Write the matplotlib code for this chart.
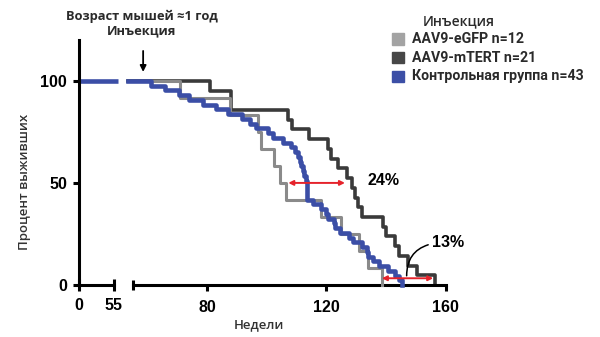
import numpy as np
import matplotlib
matplotlib.use("Agg")
import matplotlib.pyplot as plt
from matplotlib.patches import Rectangle

# недели гибели животных по группам (без цензурирования)
egfp_weeks = [71, 87.5, 97, 98, 102.5, 104.5, 106.5, 118, 125, 131, 134, 138.5]
mtert_weeks = [81, 88, 88, 107, 108.5, 114, 120.5, 121.5, 124, 127, 128.5,
               129.5, 130.5, 132, 139, 140, 143, 144.5, 147.5, 150.5, 156.5]
control_weeks = [61, 66, 70.5, 74, 78.5, 83, 87, 91.5, 94.5, 96.5, 100.5, 102,
                 105.5, 108, 109.5, 110.5, 111, 111.5, 112, 112.5, 113, 113.5,
                 113.5, 113.5, 113.5, 115.5, 118, 120, 120.5, 122.5, 123, 124.5,
                 127.5, 129, 132, 133.5, 134, 135.5, 137.5, 140.5, 143, 144.5, 145.5]

labels = ["AAV9-eGFP n=12", "AAV9-mTERT n=21", "Контрольная группа n=43"]
legend_colors = ["#a3a3a3", "#474747", "#3c4fa6"]
line_colors = ["#8a8a8a", "#3a3a3a", "#3b4ea6"]

median_gap = (107.2, 126.2)   # стрелка 24%
end_gap = (138.6, 155.8)      # стрелка 13%
injection_week = 58.5


def km(weeks, start=53.5):
    t = np.sort(np.asarray(weeks, dtype=float))
    n = len(t)
    s = 100.0 * (1 - np.arange(1, n + 1) / n)
    return np.r_[start, t], np.r_[100.0, s]


W, H = 600, 337
fig = plt.figure(figsize=(W / 100, H / 100), dpi=100)
y0 = 1 - 285 / H
hgt = (285 - 40) / H
axL = fig.add_axes([79 / W, y0, 34.7 / W, hgt])
axR = fig.add_axes([132.7 / W, y0, 313 / W, hgt])

tickfont = dict(family="Liberation Sans", weight="bold", size=11.5)
txtfont = ["Open Sans", "DejaVu Sans"]
legfont = ["Roboto", "DejaVu Sans"]

for ax in (axL, axR):
    ax.set_ylim(0, 120)
    for side in ("top", "right"):
        ax.spines[side].set_visible(False)
    for side in ("left", "bottom"):
        ax.spines[side].set_linewidth(2.2)
    ax.tick_params(width=2.2, length=4.5, pad=4)
    ax.patch.set_alpha(0)

axL.set_xlim(0, 55)
axL.set_xticks([0, 55])
axL.set_yticks([0, 50, 100])
axL.tick_params(axis="x", direction="inout", length=8, pad=5)
for lab in axL.get_xticklabels() + axL.get_yticklabels():
    lab.set(**tickfont)

axR.set_xlim(55, 160)
axR.set_xticks([80, 120, 160])
axR.tick_params(axis="x", pad=6)
axR.spines["left"].set_visible(False)
axR.set_yticks([])
for lab in axR.get_xticklabels():
    lab.set(**tickfont)
# метка разрыва оси
axR.plot([0, 0], [-0.02, 0.02], transform=axR.transAxes, color="black",
         lw=2.2, clip_on=False, solid_capstyle="butt")

# до инъекции
axL.plot([0, 62], [100, 100], color=line_colors[2], lw=3.3,
         clip_on=False, solid_capstyle="butt")

for weeks, c, lw, z in [(mtert_weeks, line_colors[1], 2.6, 2),
                        (egfp_weeks, line_colors[0], 2.2, 3),
                        (control_weeks, line_colors[2], 3.3, 4)]:
    x, y = km(weeks)
    axR.step(x, y, where="post", color=c, lw=lw, zorder=z, clip_on=False)

axR.annotate("", xy=(injection_week, 103), xytext=(injection_week, 116),
             arrowprops=dict(arrowstyle="-|>", color="black", lw=1.3,
                             mutation_scale=9), annotation_clip=False)

red = "#e5232b"
axR.annotate("", xy=(median_gap[0], 50), xytext=(median_gap[1], 50),
             arrowprops=dict(arrowstyle="<|-|>", color=red, lw=1.4,
                             mutation_scale=7, shrinkA=0, shrinkB=0), zorder=6)
axR.annotate("", xy=(end_gap[0], 3.3), xytext=(end_gap[1], 3.3),
             arrowprops=dict(arrowstyle="<|-|>", color=red, lw=1.4,
                             mutation_scale=7, shrinkA=0, shrinkB=0), zorder=6)
axR.text(139.3, 51, "24%", fontdict=tickfont, ha="center", va="center")
axR.annotate("13%", xy=(146.9, 4.5), xytext=(155.5, 21),
             fontfamily="Liberation Sans", fontweight="bold", fontsize=11.5,
             ha="left", va="center",
             arrowprops=dict(arrowstyle="-", color="black", lw=1.1,
                             shrinkA=1, shrinkB=0,
                             connectionstyle="angle3,angleA=0,angleB=90"))

# подписи
fig.text(141.5 / W, 1 - 16 / H, "Возраст мышей ≈1 год", family=txtfont,
         weight="bold", size=9.3, color="#2a2a2a", ha="center", va="center")
fig.text(142 / W, 1 - 31 / H, "Инъекция", family=txtfont, weight="bold",
         size=9.3, color="#2a2a2a", ha="center", va="center")
fig.text(259 / W, 1 - 325 / H, "Недели", family=txtfont, weight="semibold",
         size=9.5, color="#333333", ha="center", va="center")
fig.text(25 / W, 1 - 181.5 / H, "Процент выживших", family=txtfont,
         weight="semibold", size=9.5, color="#333333", ha="center",
         va="center", rotation=90)

# легенда
fig.text(459 / W, 1 - 21 / H, "Инъекция", family=txtfont, weight="semibold",
         size=10, color="#2a2a2a", ha="center", va="center")
for i, (lab, c) in enumerate(zip(labels, legend_colors)):
    yc = 39 + 18.5 * i
    fig.patches.append(Rectangle((392 / W, 1 - (yc + 5.5) / H), 11.5 / W, 11 / H,
                                 transform=fig.transFigure, color=c))
    fig.text(411.5 / W, 1 - yc / H, lab, family=legfont, weight="bold",
             size=10.2, color="#2a2a2a", ha="left", va="center")

fig.savefig("out.png", dpi=100)
